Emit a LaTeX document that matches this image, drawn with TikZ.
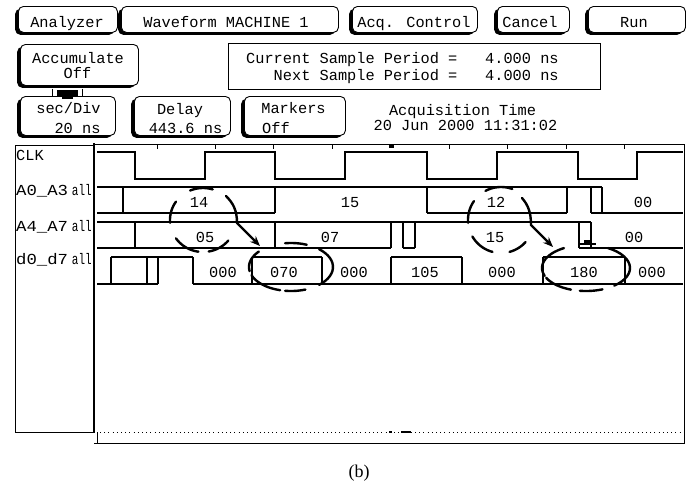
\documentclass[tikz,border=0pt]{standalone}
\usepackage{fontspec}
\newfontfamily\hp{Liberation Mono}
\newfontfamily\capfont{Liberation Serif}
\usetikzlibrary{arrows.meta}
% button: name, x, y, width, height  (y grows downwards)
\newcommand\hpbtn[5]{%
  \fill[rounded corners=5pt] (#2-2.8,#3+2.8) rectangle ++(#4,#5);
  \node[btn, minimum width=#4pt, minimum height=#5pt] (#1) at (#2,#3) {};}
\begin{document}
\begin{tikzpicture}[x=1pt,y=-1pt,
  btn/.style={draw, line width=0.9pt, rounded corners=5pt, fill=white, inner sep=0pt, anchor=north west},
  txt/.style={font={\hp\fontsize{15.3}{16}\selectfont}, inner sep=0pt, anchor=base},
  wave/.style={line width=1.1pt},
  hand/.style={line width=2.4pt, line cap=round},
  handarrow/.style={hand, -{Stealth[length=10pt,width=8pt]}},
  tick/.style={line width=0.8pt}
]
\useasboundingbox (0,0) rectangle (691,483);

% ---- top row buttons
\hpbtn{analyzer}{18}{6}{99}{26}
\hpbtn{machine}{121}{6}{217}{26}
\hpbtn{acq}{352}{6}{125}{26}
\hpbtn{cancel}{497}{6}{72}{26}
\hpbtn{run}{588}{6}{97}{26}
\node[txt] (t1) at (67,27) {Analyzer};
\node[txt] (t2) at (226,27) {Waveform MACHINE 1};
\node[txt] (t3) at (414,27) {Acq. Control};
\node[txt] (t4) at (530,27) {Cancel};
\node[txt] (t5) at (634,27) {Run};

% ---- second row
\hpbtn{acc}{20}{44}{118}{41}
\node[txt] (t6) at (78,63) {Accumulate};
\node[txt] (t7) at (77.5,78) {Off};
\node[draw, line width=0.9pt, inner sep=0pt, anchor=north west, minimum width=372pt, minimum height=46pt] (period) at (228,43) {};
\node[txt, anchor=base west] (cur) at (246,63) {Current Sample Period =};
\path (cur.base east) ++(0,17) coordinate (nxtend);
\node[txt, anchor=base east] (nxt) at (nxtend) {Next Sample Period =};
\node[txt, anchor=base west] (v1) at (485,63) {4.000 ns};
\node[txt, anchor=base west] (v2) at (485,80) {4.000 ns};

% ---- third row
\hpbtn{sec}{20}{96}{95}{39}
\hpbtn{delay}{134}{96}{96}{39}
\hpbtn{markers}{244}{96}{101}{39}
\node[txt] (t8) at (68.5,113) {sec/Div};
\node[txt] (t9) at (77.5,133) {20 ns};
\node[txt] (t10) at (180,114) {Delay};
\node[txt] (t11) at (185.5,133) {443.6 ns};
\node[txt] (t12) at (293.5,113) {Markers};
\node[txt, anchor=base west] (t13) at (262,133) {Off};
\node[txt] (t14) at (462.5,115) {Acquisition Time};
\node[txt] (t15) at (465.5,130) {20 Jun 2000 11:31:02};

% connector between Accumulate and sec/Div
\draw[line width=0.9pt] ([xshift=32pt,yshift=-2.8pt]acc.south west) -- ([xshift=32pt]sec.north west);
\draw[line width=0.9pt] ([xshift=62pt,yshift=-2.8pt]acc.south west) -- ([xshift=62pt]sec.north west);
\fill (57,90) rectangle (78,95.5);
\fill (62,95) rectangle (73,99);

% ---- label box and plot frame
\draw[line width=0.9pt] (15,145) rectangle (94,432);
\draw[line width=2.4pt] (94,143) -- (94,432);
\draw[line width=0.9pt] (94,144) -- (684,144) -- (684,443.5) -- (94,443.5);
\draw[line width=0.7pt] (97,432) -- (97,443);
\draw[line width=0.8pt, dash pattern=on 1pt off 3.2pt] (100,432) -- (684,432);
\fill (389,430.5) rectangle (392,433);
\draw[line width=1.3pt] (401,432) -- (411,432);
\foreach \tx in {157,215,273,332,449,507,566,624} \draw[tick] (\tx,144) -- (\tx,149);
\fill (389,144) rectangle (393.5,148);

% signal labels
\node[txt, anchor=base west] (lclk) at (16,160) {CLK};
\node[txt, anchor=base west] (la0) at (16,195) {\scalebox{1.13}[1]{A0\_A3}};
\node[txt, anchor=base east] (la0b) at (92,195) {\scalebox{0.72}[1]{all}};
\node[txt, anchor=base west] (la4) at (16,231) {\scalebox{1.13}[1]{A4\_A7}};
\node[txt, anchor=base east] (la4b) at (92,231) {\scalebox{0.72}[1]{all}};
\node[txt, anchor=base west] (ld0) at (16,264) {\scalebox{1.13}[1]{d0\_d7}};
\node[txt, anchor=base east] (ld0b) at (92,264) {\scalebox{0.72}[1]{all}};

% ---- CLK
\draw[wave] (97,152) -- (135,152) -- (135,179) -- (205,179) -- (205,152) -- (275,152) -- (275,179)
  -- (345,179) -- (345,152) -- (427,152) -- (427,179) -- (497,179) -- (497,152) -- (578,152)
  -- (578,179) -- (637,179) -- (637,152) -- (683,152);

% ---- A0_A3 (top 187, bottom 213)
\draw[wave] (97,187) -- (602,187);
\draw[wave] (97,213) -- (275,213) (427,213) -- (567,213) (591,213) -- (683,213);
\foreach \tx in {123,275,427,567,591,602} \draw[wave] (\tx,187) -- (\tx,213);

% ---- A4_A7 (top 222, bottom 248)
\draw[wave] (97,222) -- (591,222);
\draw[wave] (97,248) -- (391,248) (403,248) -- (415,248) (579,248) -- (683,248);
\foreach \tx in {135,275,391,403,415,579,591} \draw[wave] (\tx,222) -- (\tx,248);

% ---- d0_d7 (top 257, bottom 284)
\draw[wave] (97,284) -- (158,284) (193,284) -- (683,284);
\draw[wave] (111,257) -- (193,257) (252,257) -- (322,257) (391,257) -- (462,257) (543,257) -- (625,257);
\foreach \tx in {111,147,158,193,252,322,391,462,543,625} \draw[wave] (\tx,257) -- (\tx,284);

% values
\node[txt] (w14) at (199,207) {14};
\node[txt] (w15a) at (350,207) {15};
\node[txt] (w12) at (496,207) {12};
\node[txt] (w00a) at (643,207) {00};
\node[txt] (w05) at (205,242) {05};
\node[txt] (w07) at (330,242) {07};
\node[txt] (w15b) at (495,242) {15};
\node[txt] (w00b) at (634,242) {00};
\node[txt] (d1) at (223,277) {000};
\node[txt] (d2) at (284,277) {070};
\node[txt] (d3) at (354,277) {000};
\node[txt] (d4) at (425,277) {105};
\node[txt] (d5) at (502,277) {000};
\node[txt] (d6) at (584,277) {180};
\node[txt] (d7) at (652,277) {000};

% marker glyph on A4_A7
\draw[line width=2pt] (578,244) -- (596,244);
\fill (584,239.5) rectangle (590,244);

% ---- hand-drawn annotations
% ellipse around 14 / 05
\foreach \a/\b in {73/113,145/185,215/262,280/320}
  \draw[hand] plot[domain=\a:\b, samples=16] ({203+33*cos(\x)},{220-32*sin(\x)});
\coordinate (tip1) at (260,246);
\draw[handarrow] (226,196) .. controls (233,203) and (237,210) .. (237,223) -- (tip1);
% ellipse around 070
\foreach \a/\b in {68/98,140/190,200/255,262/290,-48/48}
  \draw[hand] plot[domain=\a:\b, samples=16] ({291+42*cos(\x)},{267-24*sin(\x)});
% ellipse around 12 / 15
\foreach \a/\b in {70/118,145/185,210/255,285/318}
  \draw[hand] plot[domain=\a:\b, samples=16] ({501+33*cos(\x)},{220-33*sin(\x)});
\coordinate (tip2) at (553,247);
\draw[handarrow] (522,198) .. controls (528,205) and (531,212) .. (531,225) -- (tip2);
% ellipse around 180
\foreach \a/\b in {120/200,205/250,262/292,-50/60}
  \draw[hand] plot[domain=\a:\b, samples=16] ({586+44*cos(\x)},{268-23*sin(\x)});

% caption
\node[font={\capfont\fontsize{18}{20}\selectfont}, inner sep=0pt, anchor=base] (cap) at (359,477) {(b)};
\end{tikzpicture}
\end{document}
